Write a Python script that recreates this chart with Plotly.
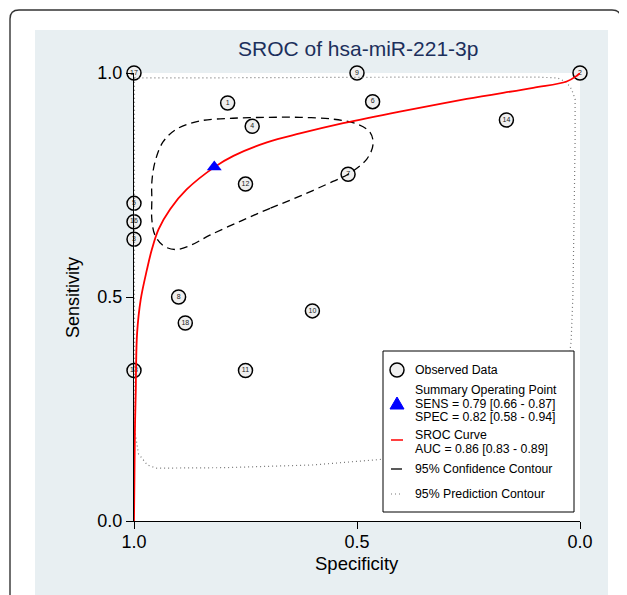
import plotly.graph_objects as go

# ---------------- data ----------------
study_labels = ["1", "2", "3", "4", "5", "6", "7", "8", "9", "10", "11", "12",
                "13", "14", "16", "17", "18"]
study_spec = [0.79, 0.0, 1.0, 0.735, 1.0, 0.465, 0.52, 0.90, 0.5, 0.60, 0.75, 0.75,
              1.0, 0.165, 1.0, 1.0, 0.885]
study_sens = [0.933, 1.0, 0.629, 0.881, 0.709, 0.936, 0.774, 0.50, 1.0, 0.469, 0.336, 0.752,
              0.336, 0.895, 0.668, 1.0, 0.442]

summary_spec = [0.82]
summary_sens = [0.79]

sroc_spec = [1.0, 0.999, 0.998, 0.996, 0.9955, 0.993, 0.985, 0.971, 0.960, 0.945, 0.919,
             0.882, 0.818, 0.777, 0.702, 0.628, 0.531, 0.404, 0.254, 0.105, 0.030, 0.007, 0.0]
sroc_sens = [0.0, 0.1, 0.2, 0.293, 0.336, 0.42, 0.494, 0.561, 0.606, 0.651, 0.696,
             0.740, 0.791, 0.815, 0.845, 0.865, 0.888, 0.914, 0.942, 0.967, 0.981, 0.994, 1.0]

conf_spec = [0.628, 0.695, 0.762, 0.830, 0.874, 0.908, 0.935, 0.953, 0.960, 0.960, 0.960,
             0.953, 0.935, 0.904, 0.852, 0.778, 0.702, 0.628, 0.554, 0.500, 0.471, 0.464,
             0.478, 0.520, 0.554, 0.628]
conf_sens = [0.725, 0.698, 0.669, 0.638, 0.615, 0.606, 0.615, 0.638, 0.673, 0.718, 0.756,
             0.801, 0.846, 0.875, 0.893, 0.899, 0.901, 0.901, 0.897, 0.886, 0.868, 0.841,
             0.808, 0.774, 0.758, 0.725]

pred_spec = [0.999, 0.99, 0.9, 0.7, 0.5, 0.3, 0.1, 0.05, 0.03, 0.019, 0.011, 0.011, 0.013,
             0.016, 0.02, 0.03, 0.06, 0.15, 0.3, 0.44, 0.6, 0.8, 0.95, 0.97, 0.99, 0.998,
             0.999, 0.999]
pred_sens = [0.99, 0.989, 0.989, 0.99, 0.99, 0.991, 0.991, 0.989, 0.979, 0.964, 0.942, 0.85,
             0.7, 0.5, 0.4, 0.32, 0.25, 0.19, 0.155, 0.138, 0.125, 0.119, 0.118, 0.125, 0.15,
             0.2, 0.5, 0.99]

tick_vals = [0, 0.5, 1]
tick_text = ["0.0", "0.5", "1.0"]

legend_lines = {
    "obs": ["Observed Data"],
    "sum": ["Summary Operating Point", "SENS = 0.79 [0.66 - 0.87]", "SPEC = 0.82 [0.58 - 0.94]"],
    "sroc": ["SROC Curve", "AUC = 0.86 [0.83 - 0.89]"],
    "conf": ["95% Confidence Contour"],
    "pred": ["95% Prediction Contour"],
}

# ---------------- layout helpers ----------------
OFF = 8                      # page body margin of the browser
W, H = 627 - OFF, 595 - OFF
PW, PH = 446, 448
ML = 134 - OFF
MT = 73 - OFF
MR = W - ML - PW
MB = H - MT - PH
FONT = "Liberation Sans, Arial, Helvetica, sans-serif"


def px(x):
    """page pixel x -> paper coordinate"""
    return (x - OFF - ML) / PW


def py(y):
    """page pixel y -> paper coordinate"""
    return (H - MB - (y - OFF)) / PH


fig = go.Figure()

fig.add_trace(go.Scatter(
    x=study_spec, y=study_sens, mode="markers+text", text=study_labels,
    textposition="middle center", textfont=dict(size=7, color="#222222", family=FONT),
    marker=dict(symbol="circle", size=14, color="#efefef", line=dict(color="black", width=1.5)),
    cliponaxis=False, showlegend=False, hoverinfo="skip"))

fig.add_trace(go.Scatter(
    x=pred_spec, y=pred_sens, mode="lines",
    line=dict(color="#777777", width=1.2, dash="1px,3px"),
    cliponaxis=False, showlegend=False, hoverinfo="skip"))

fig.add_trace(go.Scatter(
    x=conf_spec, y=conf_sens, mode="lines",
    line=dict(color="black", width=1.3, dash="8px,5px", shape="spline", smoothing=1.0),
    cliponaxis=False, showlegend=False, hoverinfo="skip"))

fig.add_trace(go.Scatter(
    x=sroc_spec, y=sroc_sens, mode="lines",
    line=dict(color="red", width=1.8, shape="spline", smoothing=1.0),
    cliponaxis=False, showlegend=False, hoverinfo="skip"))

fig.add_trace(go.Scatter(
    x=summary_spec, y=summary_sens, mode="markers",
    marker=dict(symbol="triangle-up", size=13, color="blue"),
    cliponaxis=False, showlegend=False, hoverinfo="skip"))

shapes = []
# light panel
shapes.append(dict(type="rect", xref="paper", yref="paper", x0=px(35), x1=px(608),
                   y0=py(605), y1=py(30), fillcolor="#e8eff2", line=dict(width=0),
                   layer="below"))
# white plot region
shapes.append(dict(type="rect", xref="paper", yref="paper", x0=0, x1=1, y0=0, y1=1,
                   fillcolor="white", line=dict(width=0), layer="below"))
# outer rounded frame
r = 9
path = (f"M {px(10)},{py(605)} L {px(10)},{py(10 + r)} "
        f"Q {px(10)},{py(10)} {px(10 + r)},{py(10)} "
        f"L {px(621 - r)},{py(10)} Q {px(621)},{py(10)} {px(621)},{py(10 + r)} "
        f"L {px(621)},{py(605)}")
shapes.append(dict(type="path", xref="paper", yref="paper", path=path,
                   line=dict(color="#333333", width=1.4), layer="below"))

# legend box
shapes.append(dict(type="rect", xref="paper", yref="paper", x0=px(383), x1=px(574),
                   y0=py(512), y1=py(351), fillcolor="white",
                   line=dict(color="black", width=1), layer="above"))
# legend symbols
shapes.append(dict(type="circle", xref="paper", yref="paper", x0=px(390), x1=px(404),
                   y0=py(377), y1=py(363), fillcolor="#efefef",
                   line=dict(color="black", width=1.5), layer="above"))
tri = f"M {px(390)},{py(409)} L {px(404)},{py(409)} L {px(397)},{py(397)} Z"
shapes.append(dict(type="path", xref="paper", yref="paper", path=tri, fillcolor="blue",
                   line=dict(color="blue", width=1), layer="above"))
shapes.append(dict(type="line", xref="paper", yref="paper", x0=px(391), x1=px(403),
                   y0=py(440), y1=py(440), line=dict(color="red", width=1.5), layer="above"))
shapes.append(dict(type="line", xref="paper", yref="paper", x0=px(391), x1=px(402),
                   y0=py(469), y1=py(469), line=dict(color="black", width=1.3), layer="above"))
shapes.append(dict(type="line", xref="paper", yref="paper", x0=px(391), x1=px(403),
                   y0=py(494), y1=py(494), line=dict(color="#777777", width=1.2, dash="1px,3px"),
                   layer="above"))

annotations = []
leg_y = {"obs": [370], "sum": [390, 403.5, 417], "sroc": [434.5, 448.5],
         "conf": [469], "pred": [494]}
for key, lines in legend_lines.items():
    for t, yy in zip(lines, leg_y[key]):
        annotations.append(dict(text=t, xref="paper", yref="paper", x=px(413), y=py(yy),
                                xanchor="left", yanchor="middle", showarrow=False,
                                font=dict(size=12.3, color="black", family=FONT)))

annotations.append(dict(text="Sensitivity", xref="paper", yref="paper", x=px(73), y=py(298),
                        textangle=-90, xanchor="center", yanchor="middle", showarrow=False,
                        font=dict(size=18, color="black", family=FONT)))
annotations.append(dict(text="Specificity", xref="paper", yref="paper", x=px(357), y=py(563),
                        xanchor="center", yanchor="middle", showarrow=False,
                        font=dict(size=18.5, color="black", family=FONT)))
annotations.append(dict(text="SROC of hsa-miR-221-3p", xref="paper", yref="paper",
                        x=px(357.5), y=py(48), xanchor="center", yanchor="middle",
                        showarrow=False, font=dict(size=21, color="#1c2f5c", family=FONT)))

axis_common = dict(tickvals=tick_vals, ticktext=tick_text, ticks="outside", ticklen=7,
                   tickwidth=1, tickcolor="black", showline=True, linecolor="black",
                   linewidth=1, showgrid=False, zeroline=False,
                   tickfont=dict(size=18, color="black", family=FONT), fixedrange=True)

fig.update_layout(
    width=W, height=H, margin=dict(l=ML, r=MR, t=MT, b=MB, pad=0),
    paper_bgcolor="white", plot_bgcolor="white",
    xaxis=dict(range=[1, 0], ticklabelstandoff=-3, **axis_common),
    yaxis=dict(range=[0, 1], **axis_common),
    shapes=shapes, annotations=annotations, showlegend=False,
    font=dict(family=FONT),
)

fig.write_html("out.html")
